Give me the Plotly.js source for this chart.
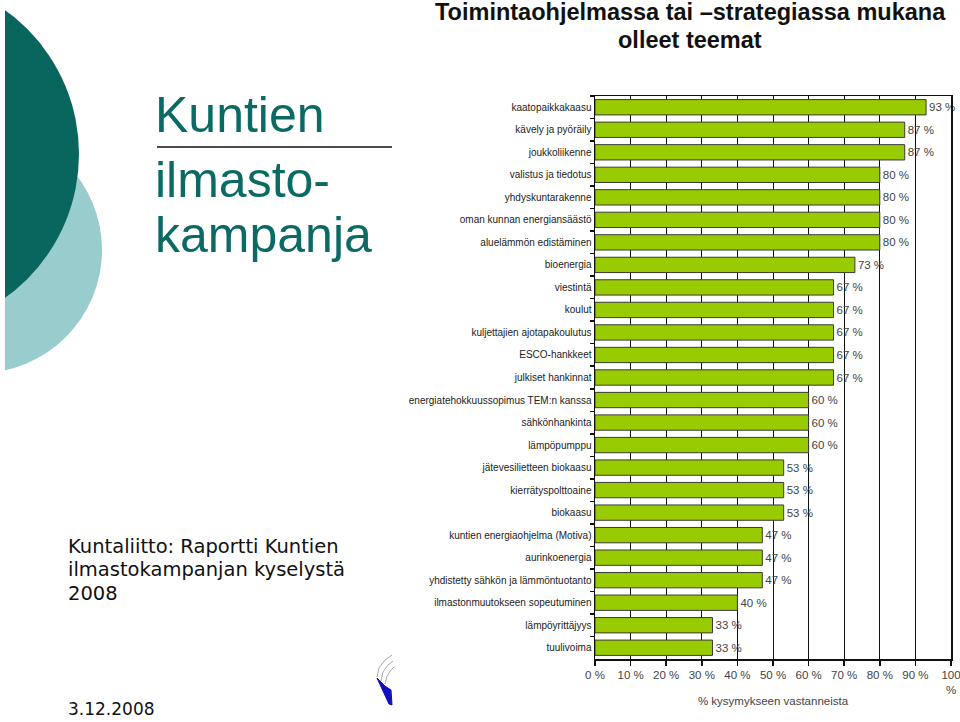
<!DOCTYPE html>
<html>
<head>
<meta charset="utf-8">
<script src="https://cdn.plot.ly/plotly-3.0.1.min.js"></script>
<style>html,body{margin:0;padding:0;background:#fff;}#chart{width:960px;height:722px;}</style>
</head>
<body>
<div id="chart"></div>
<script>
const categories = [
  "kaatopaikkakaasu",
  "kävely ja pyöräily",
  "joukkoliikenne",
  "valistus ja tiedotus",
  "yhdyskuntarakenne",
  "oman kunnan energiansäästö",
  "aluelämmön edistäminen",
  "bioenergia",
  "viestintä",
  "koulut",
  "kuljettajien ajotapakoulutus",
  "ESCO-hankkeet",
  "julkiset hankinnat",
  "energiatehokkuussopimus TEM:n kanssa",
  "sähkönhankinta",
  "lämpöpumppu",
  "jätevesilietteen biokaasu",
  "kierrätyspolttoaine",
  "biokaasu",
  "kuntien energiaohjelma (Motiva)",
  "aurinkoenergia",
  "yhdistetty sähkön ja lämmöntuotanto",
  "ilmastonmuutokseen sopeutuminen",
  "lämpöyrittäjyys",
  "tuulivoima"
];
const values = [93, 87, 87, 80, 80, 80, 80, 73, 67, 67, 67, 67, 67, 60, 60, 60, 53, 53, 53, 47, 47, 47, 40, 33, 33];
const tickValues = [0, 10, 20, 30, 40, 50, 60, 70, 80, 90, 100];
const tickLabels = ["0 %", "10 %", "20 %", "30 %", "40 %", "50 %", "60 %", "70 %", "80 %", "90 %", "100<br>%"];
const chartTitle1 = "Toimintaohjelmassa tai –strategiassa mukana";
const chartTitle2 = "olleet teemat";
const xTitle = "% kysymykseen vastanneista";
const slideTitle = ["Kuntien", "ilmasto-", "kampanja"];
const sourceLines = ["Kuntaliitto: Raportti Kuntien", "ilmastokampanjan kyselystä", "2008"];
const dateText = "3.12.2008";

// plot area in pixels
const L = 595, R = 951, T = 96, B = 659;
const W = 960, H = 722;
const px = x => (x - L) / (R - L);
const py = y => (B - y) / (B - T);
const path = pts => pts.map((p, i) => (i ? "L" : "M") + px(p[0]).toFixed(4) + "," + py(p[1]).toFixed(4)).join(" ");

const narrow = "'Liberation Sans Narrow', 'Arial Narrow', Arial, 'Liberation Sans', sans-serif";
const arial = "Arial, 'Liberation Sans', sans-serif";
const verdana = "Verdana, 'DejaVu Sans', sans-serif";
const teal = "#0b6a63";

const trace = {
  type: "bar",
  orientation: "h",
  y: categories,
  x: values,
  width: 0.68,
  marker: {color: "#99cc00", line: {color: "#3a3a3a", width: 1}},
  text: values.map(v => v + " %"),
  textposition: "outside",
  textfont: {family: arial, size: 11.5, color: "#444"},
  cliponaxis: false,
  constraintext: "none",
  hoverinfo: "skip"
};

const annotations = [
  {text: "<b>" + chartTitle1 + "</b>", x: px(690), y: py(12), font: {family: arial, size: 23.5, color: "#111"}},
  {text: "<b>" + chartTitle2 + "</b>", x: px(690), y: py(40), font: {family: arial, size: 23.5, color: "#111"}},
  {text: slideTitle[0], x: px(153), y: py(115), xanchor: "left", font: {family: arial, size: 50, color: teal}},
  {text: slideTitle[1], x: px(153), y: py(180), xanchor: "left", font: {family: arial, size: 50, color: teal}},
  {text: slideTitle[2], x: px(153), y: py(235), xanchor: "left", font: {family: arial, size: 50, color: teal}},
  {text: sourceLines[0], x: px(66), y: py(546), xanchor: "left", font: {family: verdana, size: 19.5, color: "#111"}},
  {text: sourceLines[1], x: px(66), y: py(569), xanchor: "left", font: {family: verdana, size: 19.5, color: "#111"}},
  {text: sourceLines[2], x: px(66), y: py(593), xanchor: "left", font: {family: verdana, size: 19.5, color: "#111"}},
  {text: dateText, x: px(66), y: py(709), xanchor: "left", font: {family: verdana, size: 17, color: "#111"}}
].map(a => Object.assign({xref: "paper", yref: "paper", showarrow: false, xanchor: "center", yanchor: "middle"}, a));

function circle(cx, cy, r, color) {
  return {type: "circle", xref: "paper", yref: "paper", layer: "below",
    x0: px(cx - r), x1: px(cx + r), y0: py(cy + r), y1: py(cy - r),
    fillcolor: color, line: {width: 0}};
}

const shapes = [
  circle(-21, 250, 123, "#99cccc"),
  circle(-98, 154, 177, "#09665f"),
  {type: "rect", xref: "paper", yref: "paper", layer: "below", x0: px(-10), x1: px(5), y0: py(730), y1: py(-10), fillcolor: "#fff", line: {width: 0}},
  {type: "line", xref: "paper", yref: "paper", x0: px(157), x1: px(392), y0: py(147), y1: py(147), line: {color: "#111", width: 1.5}},
  // logo
  {type: "path", xref: "paper", yref: "paper", path: path([[377, 678], [385, 686], [391, 690], [392, 705], [389, 704]]) + " Z", fillcolor: "#1010c0", line: {color: "#1010c0", width: 1}},
  {type: "path", xref: "paper", yref: "paper", path: path([[377, 677], [379, 668], [385, 660], [392, 655]]), line: {color: "#aaa", width: 1}},
  {type: "path", xref: "paper", yref: "paper", path: path([[381, 681], [383, 672], [388, 665], [393, 661]]), line: {color: "#aaa", width: 1}},
  {type: "path", xref: "paper", yref: "paper", path: path([[385, 684], [387, 676], [391, 670], [394, 667]]), line: {color: "#aaa", width: 1}}
];

const layout = {
  width: W, height: H,
  margin: {l: L, r: W - R, t: T, b: H - B, pad: 0},
  paper_bgcolor: "#fff", plot_bgcolor: "#fff",
  showlegend: false,
  bargap: 0.32,
  xaxis: {
    range: [0, 100], tickvals: tickValues, ticktext: tickLabels,
    showgrid: true, gridcolor: "#111", gridwidth: 1,
    showline: true, linecolor: "#111", linewidth: 1.5, mirror: true,
    ticks: "outside", ticklen: 5, tickcolor: "#111", tickwidth: 1.5,
    tickfont: {family: arial, size: 11.5, color: "#444"},
    ticklabeloverflow: "allow",
    zeroline: false, fixedrange: true,
    title: {text: xTitle, font: {family: arial, size: 11.5, color: "#444"}, standoff: 1}
  },
  yaxis: {
    type: "category", autorange: "reversed",
    showgrid: false, showline: true, linecolor: "#111", linewidth: 1.5, mirror: true,
    ticks: "outside", tickson: "boundaries", ticklen: 4, tickcolor: "#111", tickwidth: 1.5,
    tickfont: {family: narrow, size: 10, color: "#222"},
    fixedrange: true
  },
  annotations: annotations,
  shapes: shapes
};

Plotly.newPlot("chart", [trace], layout, {displayModeBar: false, staticPlot: true});
</script>
</body>
</html>
